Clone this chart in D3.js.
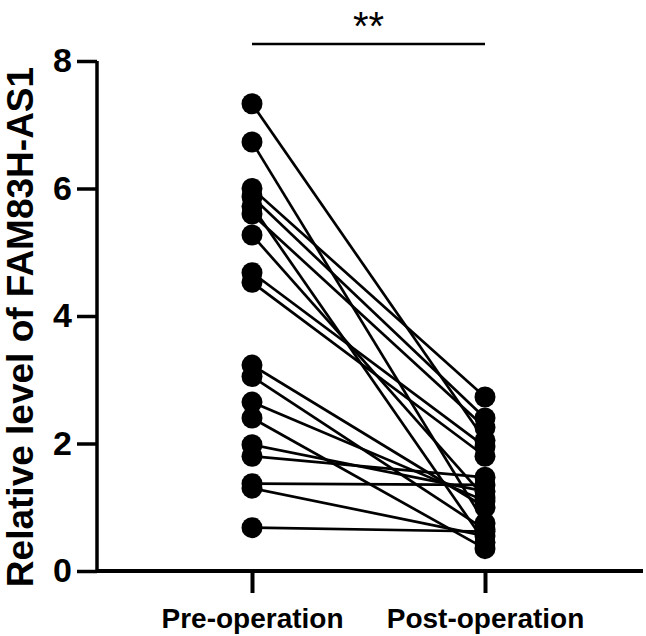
<!DOCTYPE html>
<html><head><meta charset="utf-8">
<script src="https://cdn.jsdelivr.net/npm/d3@7"></script>
<style>html,body{margin:0;padding:0;background:#fff;}</style>
</head><body>
<script>
const groups = ["Pre-operation", "Post-operation"];
const preValues  = [7.33, 6.73, 6.0, 5.87, 5.72, 5.6, 5.27, 4.68, 4.53, 3.23, 3.05, 2.65, 2.4, 1.98, 1.8, 1.37, 1.3, 0.68];
const postValues = [2.05, 0.75, 2.73, 2.4, 0.45, 2.25, 1.15, 1.95, 1.8, 1.0, 0.65, 1.1, 0.35, 1.25, 1.47, 1.35, 0.55, 0.62];
const yTicks = [0, 2, 4, 6, 8];
const yLabel = "Relative level of FAM83H-AS1";
const sigLabel = "**";

const W = 646, H = 636;
const svg = d3.select("body").append("svg").attr("width", W).attr("height", H);
const font = "'Liberation Sans', Arial, sans-serif";

const y = d3.scaleLinear().domain([0, 8]).range([571, 61]);
const x = d3.scalePoint().domain(groups).range([252, 485]);

// lines
const pairs = preValues.map((v, i) => [v, postValues[i]]);
svg.append("g").selectAll("line").data(pairs).join("line")
  .attr("x1", x(groups[0])).attr("x2", x(groups[1]))
  .attr("y1", d => y(d[0])).attr("y2", d => y(d[1]))
  .attr("stroke", "#000").attr("stroke-width", 2.7);

// points
svg.append("g").selectAll("circle").data(preValues).join("circle")
  .attr("cx", x(groups[0])).attr("cy", d => y(d)).attr("r", 10.5).attr("fill", "#000");
svg.append("g").selectAll("circle").data(postValues).join("circle")
  .attr("cx", x(groups[1])).attr("cy", d => y(d)).attr("r", 10.5).attr("fill", "#000");

// y axis
const yAxis = svg.append("g").attr("transform", "translate(97,0)")
  .call(d3.axisLeft(y).tickValues(yTicks).tickSize(20).tickPadding(5).tickFormat(d3.format("d")));
yAxis.select(".domain").attr("stroke-width", 3.5).attr("d", `M0,${y(8)}V${y(0)}`);
yAxis.selectAll(".tick line").attr("stroke-width", 3.5);
yAxis.selectAll(".tick text").attr("font-family", font).attr("font-weight", "bold")
  .attr("font-size", 34).attr("fill", "#000");

// x axis
const xAxis = svg.append("g").attr("transform", "translate(0,571)")
  .call(d3.axisBottom(x).tickSize(22).tickPadding(15));
xAxis.select(".domain").attr("stroke-width", 4).attr("d", "M97,0H643");
xAxis.selectAll(".tick line").attr("stroke-width", 4);
xAxis.selectAll(".tick text").attr("font-family", font).attr("font-weight", "bold")
  .attr("font-size", 28).attr("fill", "#000");

// y label
svg.append("text").attr("transform", "translate(20,327) rotate(-90)")
  .attr("text-anchor", "middle").attr("dominant-baseline", "central")
  .attr("font-family", font).attr("font-weight", "bold")
  .attr("font-size", 37).text(yLabel);

// significance
svg.append("line").attr("x1", x(groups[0])).attr("x2", x(groups[1]))
  .attr("y1", 44).attr("y2", 44).attr("stroke", "#000").attr("stroke-width", 2.5);
svg.append("text").attr("x", (x(groups[0]) + x(groups[1])) / 2).attr("y", 40)
  .attr("text-anchor", "middle").attr("font-family", font)
  .attr("font-size", 40).text(sigLabel);
</script>
</body></html>
